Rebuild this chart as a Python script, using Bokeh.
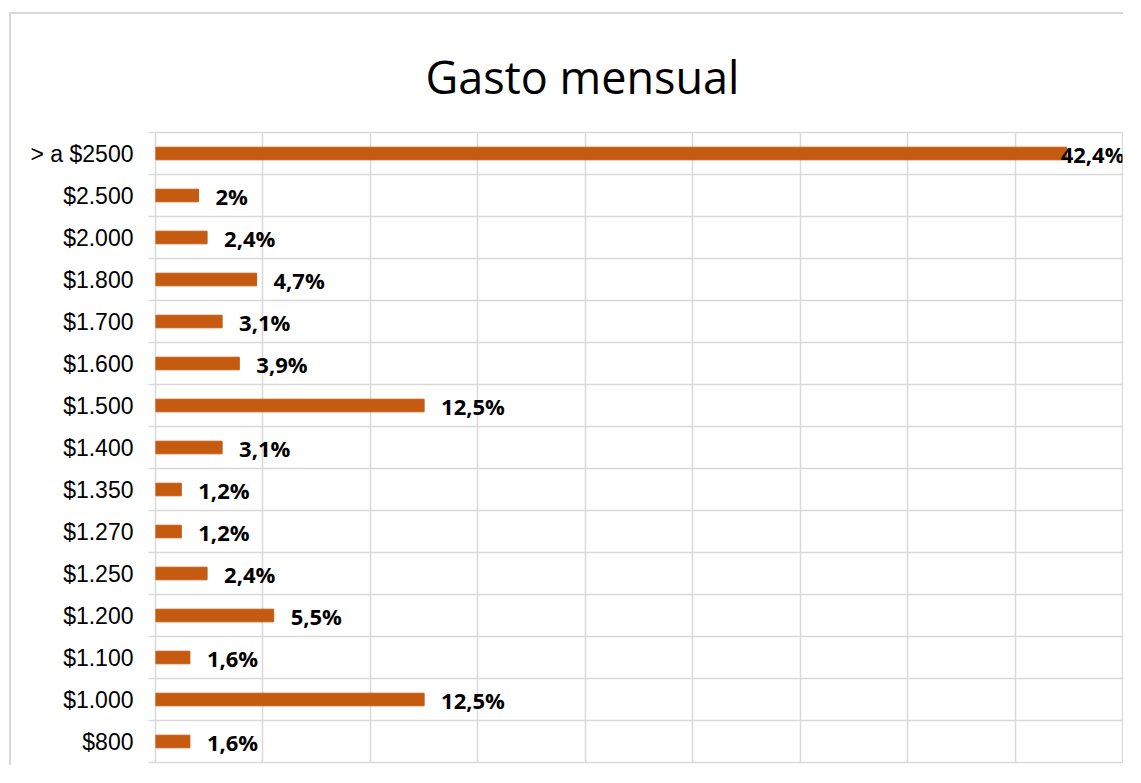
from bokeh.plotting import figure
from bokeh.models import ColumnDataSource, Range1d, FixedTicker, LinearAxis, LabelSet
from bokeh.core.properties import value
from bokeh.embed import file_html
from bokeh.resources import INLINE

# Data (bottom to top)
categories = ["$800", "$1.000", "$1.100", "$1.200", "$1.250", "$1.270", "$1.350",
              "$1.400", "$1.500", "$1.600", "$1.700", "$1.800", "$2.000", "$2.500",
              "> a $2500"]
values = [1.6, 12.5, 1.6, 5.5, 2.4, 1.2, 1.2, 3.1, 12.5, 3.9, 3.1, 4.7, 2.4, 2, 42.4]
x_ticks = [0, 5, 10, 15, 20, 25, 30, 35, 40, 45]
title_text = "Gasto mensual"

n = len(categories)
centers = [i + 0.5 for i in range(n)]
bounds = list(range(n + 1))
labels = [("%g" % v).replace(".", ",") + "%" for v in values]

W, H = 1114, 753
FL, FT, FW, FH = 144, 118, 967, 630
XMAX = 45
LABEL_W = 64
# Excel-like: keep data labels inside the chart area
px_per_unit = FW / XMAX
offsets = [max(-6, min(17, W - 1 - LABEL_W - (FL + v * px_per_unit))) for v in values]

src = ColumnDataSource(dict(y=centers, v=values, lab=labels, off=offsets))

GRID = "#d9d9d9"
BAR = "#C55A11"

p = figure(width=W, height=H, output_backend="svg", toolbar_location=None,
           x_range=Range1d(0, XMAX), y_range=Range1d(0, n),
           min_border_left=FL, min_border_top=FT, min_border_right=W - FL - FW,
           min_border_bottom=H - FT - FH, y_axis_location=None)
p.styles = {"border-left": "2px solid #d9d9d9", "border-top": "2px solid #d9d9d9",
            "margin-left": "9px", "margin-top": "12px"}
p.xaxis.visible = False

p.title.text = title_text
p.title.text_font = "Open Sans"
p.title.text_font_size = "45px"
p.title.text_font_style = "normal"
p.title.text_color = "#000000"
p.title.align = "left"
p.title.offset = 270
p.title.standoff = 52

p.xgrid.ticker = FixedTicker(ticks=x_ticks)
p.ygrid.ticker = FixedTicker(ticks=bounds)
for g in (p.xgrid, p.ygrid):
    g.grid_line_color = GRID
    g.grid_line_width = 1.5
p.outline_line_color = GRID
p.outline_line_width = 1.5

yaxis = LinearAxis(ticker=FixedTicker(ticks=centers, minor_ticks=bounds),
                   major_label_overrides={c: l for c, l in zip(centers, categories)})
yaxis.axis_line_color = None
yaxis.major_tick_line_color = None
yaxis.major_tick_in = 0
yaxis.major_tick_out = 0
yaxis.minor_tick_line_color = GRID
yaxis.minor_tick_line_width = 1.5
yaxis.minor_tick_in = 0
yaxis.minor_tick_out = 7
yaxis.major_label_standoff = 15
yaxis.major_label_text_font = "Liberation Sans"
yaxis.major_label_text_font_size = "23px"
yaxis.major_label_text_color = "#000000"
p.add_layout(yaxis, "left")

p.hbar(y="y", right="v", left=0, height=0.3, source=src, color=BAR)

ls = LabelSet(x="v", y="y", text="lab", source=src, x_offset="off",
              text_baseline="middle", text_align="left",
              text_font=value("Open Sans"), text_font_style="bold",
              text_font_size="22px", text_color="#000000")
p.add_layout(ls)

open("out.html", "w").write(file_html(p, INLINE))
